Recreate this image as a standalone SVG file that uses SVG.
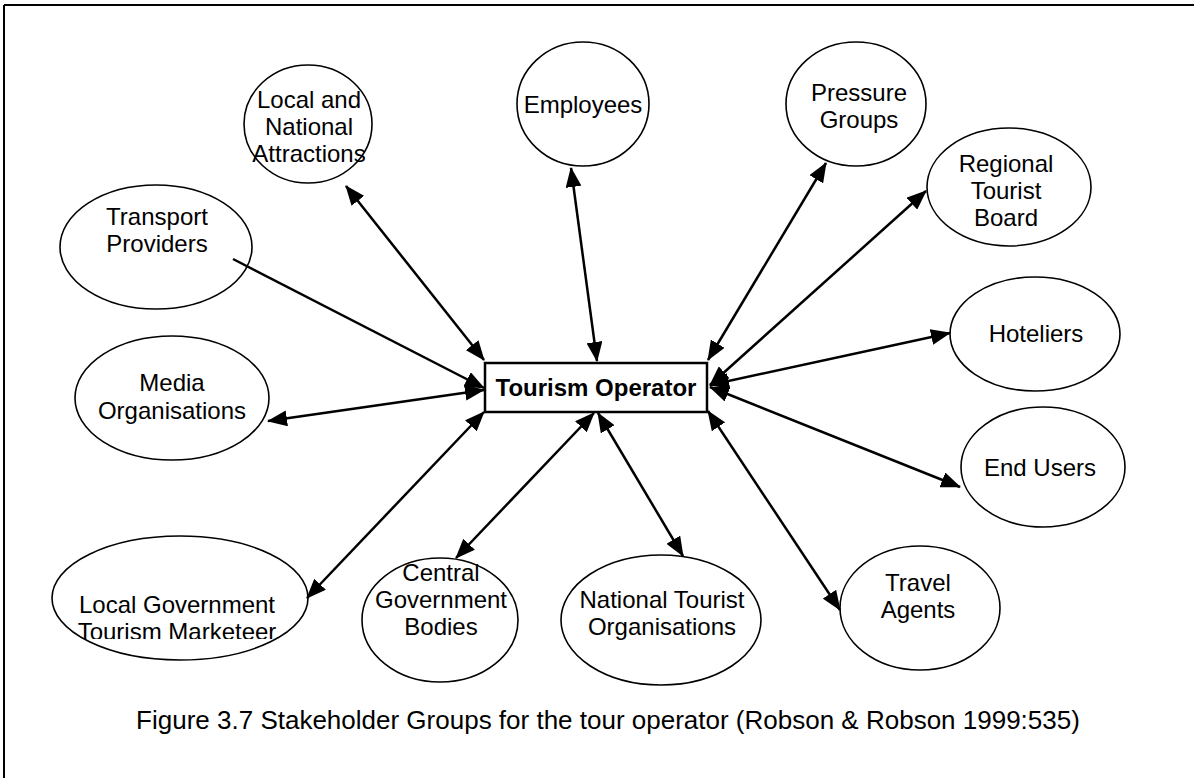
<svg xmlns="http://www.w3.org/2000/svg" width="1194" height="778" viewBox="0 0 1194 778">
  <style>
    .node ellipse { fill: #fff; stroke: #000; stroke-width: 1.6; }
    .lbl { font-family: "Liberation Sans", Arial, sans-serif; font-size: 24px; fill: #000; text-anchor: middle; }
    .hub rect { fill: #fff; stroke: #000; stroke-width: 2.5; }
    .hub text { font-family: "Liberation Sans", Arial, sans-serif; font-size: 24px; font-weight: bold; fill: #000; text-anchor: middle; }
    .link { stroke: #000; stroke-width: 2.5; fill: none; }
    .both { marker-start: url(#head); marker-end: url(#head); }
    .one { marker-end: url(#head); }
    .caption { font-family: "Liberation Sans", Arial, sans-serif; font-size: 26px; fill: #000; text-anchor: middle; }
  </style>
  <defs>
    <marker id="head" markerUnits="userSpaceOnUse" markerWidth="20" markerHeight="16" refX="19" refY="8" orient="auto-start-reverse">
      <path d="M0,0 L20,8 L0,16 Z" fill="#000"/>
    </marker>
    <clipPath id="cutLine">
      <rect x="40" y="540" width="300" height="99"/>
    </clipPath>
  </defs>

  <rect width="1194" height="778" fill="#fff"/>
  <!-- frame: top and left rules -->
  <path d="M4,5 H1194 M4,5 V778" stroke="#000" stroke-width="2" fill="none"/>

  <!-- stakeholder nodes -->
  <g id="attractions" class="node">
    <ellipse cx="308" cy="124" rx="64" ry="59"/>
    <text class="lbl" x="309" y="108">Local and</text>
    <text class="lbl" x="309" y="135">National</text>
    <text class="lbl" x="309" y="162">Attractions</text>
  </g>
  <g id="employees" class="node">
    <ellipse cx="583" cy="104" rx="66" ry="62"/>
    <text class="lbl" x="583" y="113">Employees</text>
  </g>
  <g id="pressure" class="node">
    <ellipse cx="856" cy="104" rx="70" ry="62"/>
    <text class="lbl" x="859" y="101">Pressure</text>
    <text class="lbl" x="859" y="128">Groups</text>
  </g>
  <g id="regional" class="node">
    <ellipse cx="1009" cy="187" rx="82" ry="59"/>
    <text class="lbl" x="1006" y="172">Regional</text>
    <text class="lbl" x="1006" y="199">Tourist</text>
    <text class="lbl" x="1006" y="226">Board</text>
  </g>
  <g id="transport" class="node">
    <ellipse cx="156" cy="247" rx="96" ry="62"/>
    <text class="lbl" x="157" y="225">Transport</text>
    <text class="lbl" x="157" y="252">Providers</text>
  </g>
  <g id="media" class="node">
    <ellipse cx="172" cy="398" rx="97" ry="62"/>
    <text class="lbl" x="172" y="391">Media</text>
    <text class="lbl" x="172" y="419">Organisations</text>
  </g>
  <g id="hoteliers" class="node">
    <ellipse cx="1035" cy="334" rx="85" ry="57"/>
    <text class="lbl" x="1036" y="342">Hoteliers</text>
  </g>
  <g id="end-users" class="node">
    <ellipse cx="1043" cy="467" rx="82" ry="60"/>
    <text class="lbl" x="1040" y="476">End Users</text>
  </g>
  <g id="local-government" class="node">
    <ellipse cx="180" cy="598" rx="128" ry="62"/>
    <text class="lbl" x="177" y="613">Local Government</text>
    <text class="lbl" x="177" y="640" clip-path="url(#cutLine)">Tourism Marketeer</text>
  </g>
  <g id="central-government" class="node">
    <ellipse cx="440" cy="620" rx="78" ry="62"/>
    <text class="lbl" x="441" y="581">Central</text>
    <text class="lbl" x="441" y="608">Government</text>
    <text class="lbl" x="441" y="635">Bodies</text>
  </g>
  <g id="national-tourist" class="node">
    <ellipse cx="661" cy="620" rx="100" ry="65"/>
    <text class="lbl" x="662" y="608">National Tourist</text>
    <text class="lbl" x="662" y="635">Organisations</text>
  </g>
  <g id="travel-agents" class="node">
    <ellipse cx="920" cy="608" rx="80" ry="62"/>
    <text class="lbl" x="918" y="591">Travel</text>
    <text class="lbl" x="918" y="618">Agents</text>
  </g>

  <!-- connectors -->
  <g id="connectors">
    <line class="link both" x1="346" y1="186" x2="484" y2="360"/>
    <line class="link both" x1="571" y1="168" x2="597" y2="361"/>
    <line class="link both" x1="826" y1="163" x2="708" y2="360"/>
    <line class="link both" x1="926" y1="191" x2="710" y2="385"/>
    <line class="link both" x1="950" y1="333" x2="710" y2="385"/>
    <line class="link both" x1="960" y1="487" x2="710" y2="387"/>
    <line class="link both" x1="840" y1="610" x2="708" y2="411"/>
    <line class="link both" x1="683" y1="556" x2="598" y2="413"/>
    <line class="link both" x1="456" y1="558" x2="594" y2="413"/>
    <line class="link both" x1="307" y1="598" x2="484" y2="412"/>
    <line class="link both" x1="268" y1="421" x2="484" y2="390"/>
    <line class="link one" x1="233" y1="259" x2="484" y2="388"/>
  </g>

  <!-- central node -->
  <g id="tourism-operator" class="hub">
    <rect x="485" y="363" width="222" height="49"/>
    <text x="596" y="396">Tourism Operator</text>
  </g>

  <text class="caption" x="608" y="729">Figure 3.7 Stakeholder Groups for the tour operator (Robson &amp; Robson 1999:535)</text>
</svg>
